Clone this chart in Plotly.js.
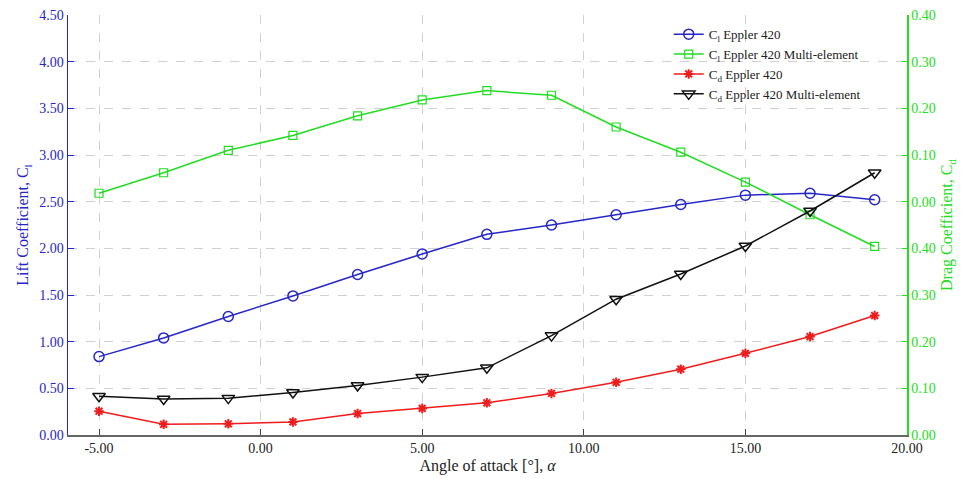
<!DOCTYPE html>
<html>
<head>
<meta charset="utf-8">
<script src="https://cdn.plot.ly/plotly-3.0.1.min.js"></script>
<style>html,body{margin:0;padding:0;background:#fff;}#chart{width:963px;height:479px;}</style>
</head>
<body>
<div id="chart"></div>
<script>
// Angle of attack [deg]
const alpha = [-5, -3, -1, 1, 3, 5, 7, 9, 11, 13, 15, 17, 19];
// Lift coefficients
const clEppler = [0.84, 1.04, 1.27, 1.49, 1.72, 1.94, 2.15, 2.25, 2.36, 2.47, 2.57, 2.59, 2.52];
const clMulti = [2.59, 2.81, 3.05, 3.21, 3.42, 3.59, 3.69, 3.64, 3.30, 3.03, 2.71, 2.36, 2.02];
// Drag coefficients (right axis)
const cdEppler = [0.051, 0.023, 0.024, 0.028, 0.046, 0.057, 0.069, 0.089, 0.113, 0.141, 0.175, 0.211, 0.256];
const cdMulti = [0.083, 0.077, 0.079, 0.091, 0.106, 0.124, 0.144, 0.213, 0.291, 0.345, 0.405, 0.480, 0.562];
// Tick labels
const xTickVals = [-5, 0, 5, 10, 15, 20];
const xTickText = ["-5.00", "0.00", "5.00", "10.00", "15.00", "20.00"];
const y2TickVals = [0, 0.1, 0.2, 0.3, 0.4, 0.5, 0.6, 0.7, 0.8, 0.9];
const y2TickText = ["0.00", "0.10", "0.20", "0.30", "0.40", "0.00", "0.10", "0.20", "0.30", "0.40"];

const BLUE = '#2727c8', GREEN = '#22dd22', RED = '#ee1c1c', BLACK = '#111111';
const FONT = 'Liberation Serif, Times New Roman, serif';

const traces = [
  {x: alpha, y: clEppler, name: 'C<sub>l</sub> Eppler 420', mode: 'lines+markers',
   line: {color: BLUE, width: 1.5}, marker: {symbol: 'circle-open', size: 10, color: BLUE, line: {width: 1.5}}},
  {x: alpha, y: clMulti, name: 'C<sub>l</sub> Eppler 420 Multi-element', mode: 'lines+markers',
   line: {color: GREEN, width: 1.5}, marker: {symbol: 'square-open', size: 8, color: GREEN, line: {width: 1.2}}},
  {x: alpha, y: cdEppler, name: 'C<sub>d</sub> Eppler 420', mode: 'lines+markers', yaxis: 'y2',
   line: {color: RED, width: 1.5}, marker: {symbol: 'asterisk-open', size: 8, color: RED, line: {width: 2, color: RED}}},
  {x: alpha, y: cdMulti, name: 'C<sub>d</sub> Eppler 420 Multi-element', mode: 'lines+markers', yaxis: 'y2',
   line: {color: BLACK, width: 1.5}, marker: {symbol: 'triangle-down-open', size: 11, color: BLACK, line: {width: 1.5}}}
];

const layout = {
  width: 963, height: 479,
  margin: {l: 68, r: 56, t: 15, b: 44},
  paper_bgcolor: '#fff', plot_bgcolor: '#fff',
  font: {family: FONT, size: 14, color: '#222'},
  showlegend: true,
  legend: {x: 0.716, y: 0.99, xanchor: 'left', yanchor: 'top', bgcolor: 'rgba(0,0,0,0)',
           font: {family: FONT, size: 13, color: '#222'}, tracegroupgap: 0, itemwidth: 30},
  xaxis: {
    range: [-5.96, 20], tickvals: xTickVals, ticktext: xTickText,
    showline: true, linecolor: '#666', linewidth: 1.5, mirror: false,
    ticks: 'inside', ticklen: 6, tickcolor: '#444',
    showgrid: true, gridcolor: '#d0d0d0', griddash: 'dash', gridwidth: 1, zeroline: false,
    tickfont: {family: FONT, size: 14, color: '#222'},
    title: {text: 'Angle of attack [°], <i>α</i>', font: {family: FONT, size: 16, color: '#222'}, standoff: 4}
  },
  yaxis: {
    range: [0, 4.5], dtick: 0.5, tickformat: '.2f',
    showline: true, linecolor: BLUE, linewidth: 1.5,
    ticks: 'inside', ticklen: 6, tickcolor: BLUE,
    showgrid: true, gridcolor: '#d0d0d0', griddash: 'dash', gridwidth: 1, zeroline: false,
    tickfont: {family: FONT, size: 14, color: BLUE},
    title: {text: 'Lift Coefficient, C<sub>l</sub>', font: {family: FONT, size: 16, color: BLUE}, standoff: 6}
  },
  yaxis2: {
    range: [0, 0.9], overlaying: 'y', side: 'right', tickvals: y2TickVals, ticktext: y2TickText,
    showline: true, linecolor: GREEN, linewidth: 1.5,
    ticks: 'inside', ticklen: 5, tickcolor: GREEN,
    showgrid: false, zeroline: false,
    tickfont: {family: FONT, size: 14, color: GREEN},
    title: {text: 'Drag Coefficient, C<sub>d</sub>', font: {family: FONT, size: 16, color: GREEN}, standoff: 6}
  }
};

Plotly.newPlot('chart', traces, layout, {displayModeBar: false, staticPlot: true});
</script>
</body>
</html>
